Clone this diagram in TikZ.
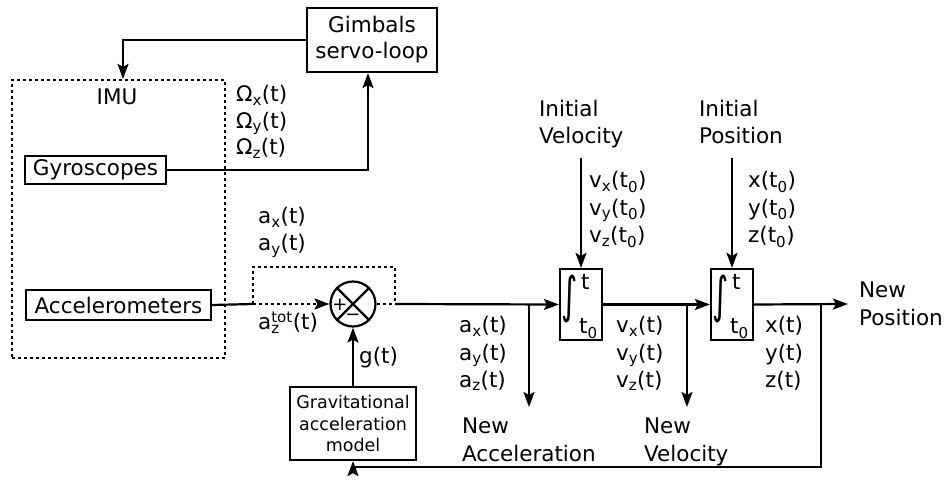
\documentclass[tikz,border=0pt]{standalone}
\usepackage{fontspec}
\setmainfont{DejaVu Sans}
\usetikzlibrary{arrows.meta}
\begin{document}
\begin{tikzpicture}[x=1pt,y=-1pt,line width=2.2pt,
  font=\fontsize{21.5}{26}\selectfont,
  >={Stealth[length=15pt,width=11pt,inset=3pt]},
  blk/.style={draw,inner sep=0pt,line width=2.2pt,align=center},
  dots/.style={dash pattern=on 3pt off 3pt,line width=2.2pt},
  lbl/.style={anchor=base west,inner sep=0pt},
  cbl/.style={anchor=base,inner sep=0pt},
  intg/.style={inner sep=0pt,font=\fontsize{21.5}{26}\selectfont}]
\useasboundingbox (0,0) rectangle (946,497);

% blocks
\node[blk,minimum width=130pt,minimum height=64pt] (gimbal) at (372,40) {Gimbals\\servo-loop};
\node[draw,dots,inner sep=0pt,minimum width=213pt,minimum height=278pt] (imu) at (118.5,219) {};
\node[cbl] (imut) at (117,105) {IMU};
\node[blk,minimum width=141pt,minimum height=28pt] (gyro) at (95.5,170) {Gyroscopes};
\node[blk,minimum width=185pt,minimum height=30pt] (acc) at (118.5,305) {Accelerometers};
\node[draw,circle,line width=2.2pt,minimum size=45pt,inner sep=0pt] (sum) at (353,304) {};
\node[blk,minimum width=126pt,minimum height=73pt,font=\fontsize{17.5}{21.5}\selectfont] (grav) at (353,423.5) {Gravitational\\acceleration\\model};
\node[blk,minimum width=42pt,minimum height=71pt] (int1) at (581,304.5) {};
\node[blk,minimum width=42pt,minimum height=71pt] (int2) at (732,304.5) {};

% summing junction cross and signs
\draw (sum.north west) -- (sum.south east);
\draw (sum.north east) -- (sum.south west);
\node[inner sep=0pt,font=\fontsize{18}{18}\selectfont] (plus) at (340,305) {+};
\node[inner sep=0pt,font=\fontsize{18}{18}\selectfont] (minus) at (353,317) {−};

% integrator contents
\node[intg] (i1s) at (569.5,299) {\scalebox{1.45}[2.3]{∫}};
\node[lbl] (i1t) at (580,290) {t};
\node[lbl] (i1b) at (578,334) {t\textsubscript{0}};
\node[intg] (i2s) at (720.5,299) {\scalebox{1.45}[2.3]{∫}};
\node[lbl] (i2t) at (731,290) {t};
\node[lbl] (i2b) at (729,334) {t\textsubscript{0}};

% coordinates
\coordinate (dl) at (253,304);
\coordinate (dtl) at (253,267);
\coordinate (dtr) at (395,267);
\coordinate (dr) at (395,304);
\coordinate (b1) at (529,304);
\coordinate (e1) at (529,407);
\coordinate (b2) at (687,304);
\coordinate (e2) at (687,407);
\coordinate (fb) at (821,304);
\coordinate (fbb) at (821,467);
\coordinate (out) at (848,304);
\coordinate (iv) at (581,158);
\coordinate (ip) at (732,158);

% connectors
\draw[->] (gimbal.west) -| ([xshift=4.5pt]imu.north);
\draw[->] (gyro.east) -| ([xshift=-4pt]gimbal.south);
\draw (acc.east) -- (dl);
\draw[dots,->] (dl) -- (sum.west);
\draw[dots] (dl) -- (dtl) -- (dtr) -- (dr);
\draw[dots] (sum.east) -- (dr);
\draw[->] (dr) -- (int1.west);
\draw[->] (b1) -- (e1);
\draw[->] (int1.east) -- (int2.west);
\draw[->] (b2) -- (e2);
\draw[->] (int2.east) -- (out);
\draw[->] (fb) -- (fbb) -| (grav.south);
\draw[->] (grav.north) -- (sum.south);
\draw[->] (iv) -- (int1.north);
\draw[->] (ip) -- (int2.north);

% labels
\node[lbl] (ox) at (235,102) {Ω\textsubscript{x}(t)};
\node[lbl] (oy) at (235,128.5) {Ω\textsubscript{y}(t)};
\node[lbl] (oz) at (235,155) {Ω\textsubscript{z}(t)};
\node[lbl] (axi) at (257,224) {a\textsubscript{x}(t)};
\node[lbl] (ayi) at (257,251) {a\textsubscript{y}(t)};
\node[lbl] (azi) at (257,330) {a\rlap{\textsubscript{z}}\textsuperscript{tot}(t)};
\node[lbl] (gt) at (358,363) {g(t)};
\node[lbl] (iv1) at (538,117) {Initial};
\node[lbl] (iv2) at (538,144) {Velocity};
\node[lbl] (ip1) at (698,117) {Initial};
\node[lbl] (ip2) at (698,144) {Position};
\node[lbl] (vx0) at (588,188) {v\textsubscript{x}(t\textsubscript{0})};
\node[lbl] (vy0) at (588,215.5) {v\textsubscript{y}(t\textsubscript{0})};
\node[lbl] (vz0) at (588,243) {v\textsubscript{z}(t\textsubscript{0})};
\node[lbl] (x0) at (747,188) {x(t\textsubscript{0})};
\node[lbl] (y0) at (747,215.5) {y(t\textsubscript{0})};
\node[lbl] (z0) at (747,243) {z(t\textsubscript{0})};
\node[lbl] (ax) at (458,333) {a\textsubscript{x}(t)};
\node[lbl] (ay) at (458,360) {a\textsubscript{y}(t)};
\node[lbl] (az) at (458,387) {a\textsubscript{z}(t)};
\node[lbl] (vx) at (615,333) {v\textsubscript{x}(t)};
\node[lbl] (vy) at (615,360) {v\textsubscript{y}(t)};
\node[lbl] (vz) at (615,387) {v\textsubscript{z}(t)};
\node[lbl] (xt) at (764,333) {x(t)};
\node[lbl] (yt) at (764,360) {y(t)};
\node[lbl] (zt) at (764,387) {z(t)};
\node[lbl] (na1) at (461,433) {New};
\node[lbl] (na2) at (461,461) {Acceleration};
\node[lbl] (nv1) at (643,433) {New};
\node[lbl] (nv2) at (643,461) {Velocity};
\node[lbl] (np1) at (858,298) {New};
\node[lbl] (np2) at (858,326) {Position};
\end{tikzpicture}
\end{document}
